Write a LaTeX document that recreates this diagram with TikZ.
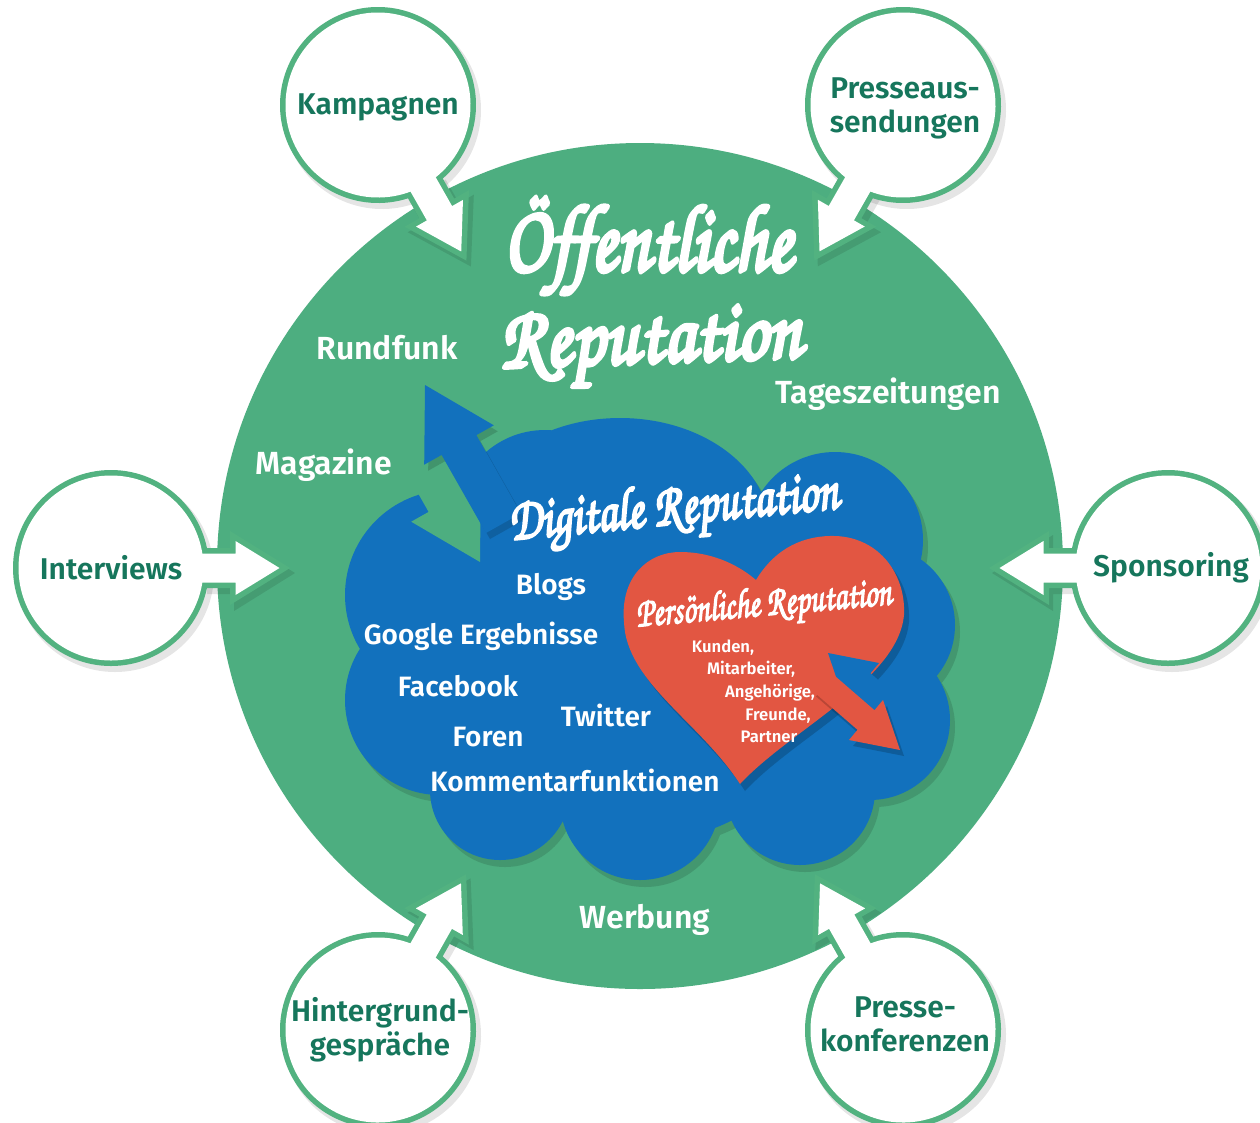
\documentclass[tikz,border=0pt]{standalone}
\usepackage[T1]{fontenc}
\usepackage{fontspec}
\usepackage{graphicx}
\newfontfamily\lblfont{Fira Sans SemiBold}
\newcommand\scrfont{\fontencoding{T1}\fontfamily{pzc}\fontseries{mb}\fontshape{it}\selectfont}
\newcommand\fatscr[2]{\special{pdf:literal direct 1 1 1 RG #1 w 1 j 2 Tr}#2\special{pdf:literal direct 0 Tr}}
\usetikzlibrary{calc}
\definecolor{gmain}{RGB}{77,174,128}
\definecolor{gring}{RGB}{82,178,128}
\definecolor{gtext}{RGB}{22,118,92}
\definecolor{cblue}{RGB}{18,113,189}
\definecolor{hred}{RGB}{226,86,66}
\tikzset{
 circlbl/.style={font=\lblfont\fontsize{22.5}{25.5}\selectfont, text=gtext, align=center, inner sep=0},
 greenlbl/.style={font=\lblfont\fontsize{24}{28}\selectfont, text=white, inner sep=0, anchor=base},
 cloudlbl/.style={font=\lblfont\fontsize{21}{25}\selectfont, text=white, inner sep=0, anchor=base},
 heartlbl/.style={font=\lblfont\fontsize{12.5}{15}\selectfont, text=white, inner sep=0, anchor=base},
 scriptlbl/.style={text=white, inner sep=0},
}
\newcommand\bubble[3]{%
 \begin{scope}[shift={(#1+4,#2+5)}, rotate=-#3]
  \fill[black,opacity=0.10] (0,0) circle[radius=99];
  \fill[black,opacity=0.10] (92,-21) -- (119,-21) -- (119,-38) -- (180,0) -- (119,38) -- (119,21) -- (92,21) -- cycle;
 \end{scope}
 \begin{scope}[shift={(#1,#2)}, rotate=-#3]
  \fill[gring] (0,0) circle[radius=98];
  \fill[gring] (60,-20) -- (119,-20) -- (119,-37) -- (179,0) -- (119,37) -- (119,20) -- (60,20) -- cycle;
  \fill[white] (0,0) circle[radius=92.5];
  \fill[white] (60,-14.5) -- (124.5,-14.5) -- (124.5,-27) -- (168.5,0) -- (124.5,27) -- (124.5,14.5) -- (60,14.5) -- cycle;
 \end{scope}}
\newcommand\cloudpath{(450,595) circle[radius=105] (440,700) circle[radius=95] (500,790) circle[radius=70]
 (640,800) circle[radius=80] (800,790) circle[radius=75] (870,720) circle[radius=80] (875,625) circle[radius=80]
 (835,540) circle[radius=88] (620,530) ellipse[x radius=150, y radius=112] (545,520) circle[radius=90] (650,660) circle[radius=180]}
\newcommand\heartpath{(740,784) .. controls (700,722) and (626,682) .. (624,622)
 .. controls (620,577) and (648,552) .. (680,552) .. controls (716,552) and (742,568) .. (756,580)
 .. controls (776,547) and (805,535) .. (836,536) .. controls (880,538) and (906,575) .. (904,615)
 .. controls (898,680) and (790,730) .. (740,784) -- cycle}
\begin{document}
\begin{tikzpicture}[x=0.75pt,y=-0.75pt]
\clip (0,0) rectangle (1260,1122);
\fill[white] (0,0) rectangle (1260,1122);
% main circle
\fill[gmain] (640,566) circle[radius=423];
% bubbles
\bubble{378}{105}{60.4}
\bubble{903}{105}{119.7}
\bubble{111}{568}{0}
\bubble{1168}{568}{180}
\bubble{378}{1030}{-60.5}
\bubble{903}{1030}{-119.5}
% cloud shadow and cloud
\begin{scope}[shift={(5,7)}]
\fill[black,opacity=0.13] \cloudpath;
\end{scope}
\fill[cblue] \cloudpath;
% green notch arrow (in)
\fill[gmain] (480,562) -- (480.8,482.3) -- (463.4,492.1) -- (409.2,396.4) -- (374.4,416.1) -- (428.6,511.9) -- (411.2,521.7) -- cycle;
% blue arrow (out)
\begin{scope}[shift={(4,6)}]
\fill[black,opacity=0.15] (425,385) -- (493.8,425.3) -- (476.4,435.1) -- (520.8,513.4) -- (486,533) -- (441.6,454.9) -- (424.2,464.7) -- cycle;
\end{scope}
\fill[cblue] (425,385) -- (493.8,425.3) -- (476.4,435.1) -- (520.8,513.4) -- (486,533) -- (441.6,454.9) -- (424.2,464.7) -- cycle;
% heart
\begin{scope}[shift={(5,7)}]
\fill[black,opacity=0.18] \heartpath;
\end{scope}
\fill[hred] \heartpath;
% blue notch in heart
\fill[cblue] (828,653) -- (879,663) -- (870.5,673.2) -- (915.8,712.6) -- (898.8,732.2) -- (853.5,692.8) -- (845,703) -- cycle;
% red arrow out
\begin{scope}[shift={(4,6)}]
\fill[black,opacity=0.18] (900,750) -- (883,700) -- (874.5,710.2) -- (829,670.8) -- (812,690.4) -- (857.5,729.8) -- (849,740) -- cycle;
\end{scope}
\fill[hred] (900,750) -- (883,700) -- (874.5,710.2) -- (829,670.8) -- (812,690.4) -- (857.5,729.8) -- (849,740) -- cycle;
% bubble labels
\node[circlbl] (kamp) at (378,107) {Kampagnen};
\node[circlbl] (pres) at (905,108) {Presseaus-\\sendungen};
\node[circlbl] (intv) at (111,568) {Interviews};
\node[circlbl] (spon) at (1171,568) {Sponsoring};
\node[circlbl] (hint) at (380,1030) {Hintergrund-\\gespräche};
\node[circlbl] (pkon) at (905,1024) {Presse-\\konferenzen};
% green labels
\node[greenlbl] (rund) at (387,359) {Rundfunk};
\node[greenlbl] (maga) at (324,474) {Magazine};
\node[greenlbl] (tage) at (888,403) {Tageszeitungen};
\node[greenlbl] (werb) at (645,928) {Werbung};
% cloud labels
\node[cloudlbl] (blog) at (551,594) {Blogs};
\node[cloudlbl] (goog) at (481,644) {Google Ergebnisse};
\node[cloudlbl] (face) at (458,696) {Facebook};
\node[cloudlbl] (twit) at (606,726) {Twitter};
\node[cloudlbl] (fore) at (488,746) {Foren};
\node[cloudlbl] (komm) at (575,791) {Kommentarfunktionen};
% heart labels
\node[heartlbl] (kund) at (723,652) {Kunden,};
\node[heartlbl] (mita) at (751,674) {Mitarbeiter,};
\node[heartlbl] (ange) at (770,697) {Angehörige,};
\node[heartlbl] (freu) at (778,720) {Freunde,};
\node[heartlbl] (part) at (769,742) {Partner};
% script titles
\node[scriptlbl] (oeff) at (648,248) {\resizebox*{216pt}{78pt}{\scrfont\fatscr{0.5}{Öffentliche}}};
\node[scriptlbl, rotate=2] (rep) at (651,347) {\resizebox*{226pt}{64pt}{\scrfont\fatscr{0.5}{Reputation}}};
\node[scriptlbl, rotate=5.5] (digi) at (674,512) {\resizebox*{248pt}{46pt}{\scrfont\fatscr{0.4}{Digitale Reputation}}};
\node[scriptlbl, rotate=5] (pers) at (764,607) {\resizebox*{192pt}{32pt}{\scrfont\fatscr{0.35}{Persönliche Reputation}}};
\end{tikzpicture}
\end{document}
